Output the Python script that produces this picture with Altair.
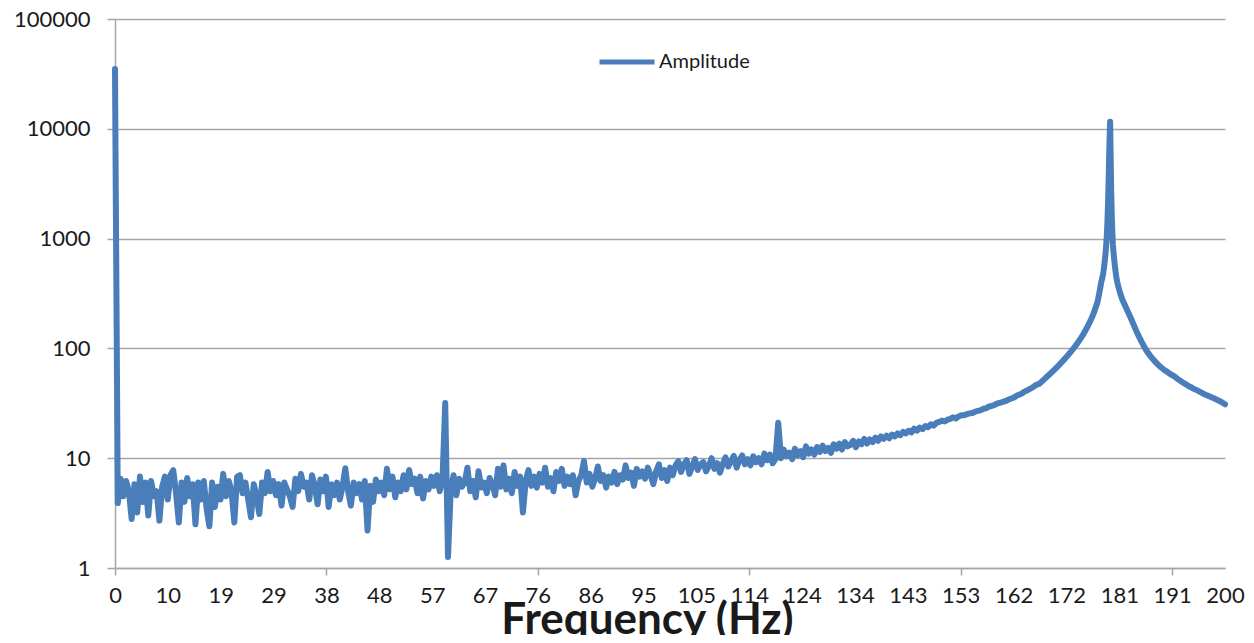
import json
import altair as alt
import pandas as pd

# ---- data ----
LOW_START, LOW_STEP = 0.0, 0.5      # 0 .. 176.5 Hz
PEAK_START, PEAK_STEP = 177.0, 0.1  # 177.0 .. 182.0 Hz (resonance, finer reading)
HIGH_START, HIGH_STEP = 182.5, 0.5  # 182.5 .. 200 Hz

AMP_000 = [35000, 3.9, 6.5, 4.5, 6.2, 5.0, 2.8, 5.8, 3.2, 6.8, 4.0, 6.0, 3.0, 6.2, 4.5, 5.0, 2.7, 5.5, 6.8, 4.2]
AMP_010 = [7.0, 7.8, 4.8, 2.6, 6.0, 4.0, 6.6, 4.5, 5.8, 2.5, 6.0, 4.2, 6.2, 3.5, 2.4, 6.0, 3.6, 5.5, 4.2, 7.2]
AMP_020 = [4.5, 6.2, 5.0, 2.6, 6.8, 7.0, 4.8, 6.0, 4.2, 2.9, 5.8, 4.5, 3.1, 6.0, 4.8, 7.5, 5.0, 6.2, 4.6, 5.8]
AMP_030 = [3.7, 6.0, 5.2, 4.5, 3.6, 6.5, 5.0, 7.2, 5.5, 6.0, 4.2, 7.0, 5.6, 3.8, 6.4, 5.0, 6.8, 3.6, 5.8, 4.6]
AMP_040 = [6.0, 4.2, 5.5, 8.1, 5.0, 3.7, 6.0, 4.8, 5.8, 4.2, 6.2, 2.2, 5.6, 4.0, 6.4, 5.0, 6.0, 4.6, 8.0, 5.2]
AMP_050 = [6.8, 4.4, 6.0, 5.0, 7.0, 5.2, 7.8, 5.8, 6.5, 4.8, 6.8, 4.3, 6.2, 5.2, 6.8, 5.6, 7.0, 5.0, 6.2, 31.8]
AMP_060 = [1.26, 5.2, 7.0, 4.6, 6.5, 5.5, 6.0, 8.2, 5.0, 6.2, 4.4, 7.6, 5.4, 6.0, 4.8, 6.6, 5.8, 4.6, 8.0, 5.5]
AMP_070 = [8.6, 5.2, 6.5, 4.8, 7.5, 5.6, 6.8, 3.2, 6.2, 7.8, 5.6, 6.8, 5.4, 7.2, 6.0, 8.2, 5.5, 6.6, 5.0, 7.5]
AMP_080 = [6.2, 8.0, 5.6, 6.8, 5.8, 7.0, 4.6, 6.2, 7.0, 9.4, 6.0, 7.2, 5.5, 6.5, 8.4, 6.2, 7.0, 5.4, 6.8, 6.0]
AMP_090 = [7.5, 5.8, 7.0, 6.4, 8.6, 6.6, 7.4, 5.6, 8.0, 6.8, 7.6, 6.5, 8.2, 7.0, 5.8, 7.6, 8.8, 6.6, 7.8, 6.2]
AMP_100 = [8.2, 7.0, 8.6, 9.4, 7.5, 8.8, 9.6, 7.2, 8.4, 9.8, 7.8, 8.8, 9.2, 7.6, 8.5, 10.0, 8.0, 9.0, 7.4, 8.8]
AMP_110 = [10.2, 8.4, 9.4, 10.5, 8.2, 9.6, 10.6, 8.8, 9.8, 8.6, 10.4, 9.2, 10.0, 8.8, 11.0, 9.6, 10.8, 9.0, 9.8, 21.0]
AMP_120 = [10.0, 12.0, 10.4, 11.2, 9.8, 12.2, 10.6, 11.6, 10.2, 12.8, 11.0, 12.0, 10.8, 12.6, 11.4, 13.0, 11.6, 12.4, 11.2, 13.4]
AMP_130 = [12.2, 13.6, 12.0, 14.0, 12.8, 13.2, 14.4, 12.6, 14.2, 13.4, 15.0, 13.6, 14.8, 14.0, 15.4, 14.4, 15.8, 15.0, 16.0, 15.2]
AMP_140 = [16.4, 15.8, 16.8, 16.2, 17.4, 16.8, 17.8, 17.2, 18.6, 17.8, 19.0, 18.4, 19.6, 19.2, 20.4, 19.8, 21.0, 21.4, 22.0, 21.6]
AMP_150 = [22.4, 22.8, 23.6, 23.0, 24.0, 24.6, 24.6, 25.2, 25.6, 25.8, 26.6, 27.0, 27.4, 28.2, 28.6, 29.6, 30.0, 30.6, 31.6, 32.0]
AMP_160 = [32.6, 33.2, 34.2, 35.0, 35.8, 37.2, 38.0, 39.2, 40.8, 41.8, 43.2, 44.8, 46.6, 47.5, 50.0, 52.8, 55.7, 58.8, 62.2, 65.8]
AMP_170 = [69.8, 74.2, 79.0, 84.3, 90.2, 96.8, 104.5, 113.4, 123.5, 135.2, 150, 168, 190, 220]

PEAK_AMP = [262, 275, 292, 310, 330, 352, 375, 400, 420, 440,
            465, 500, 545, 600, 670, 760, 880, 1050, 1350, 1900,
            2900, 4800, 8000, 11600, 5500, 2600, 1600, 1150, 880, 760,
            680, 600, 540, 495, 455, 425, 400, 380, 362, 347,
            333, 320, 308, 298, 288, 280, 272, 265, 258, 252,
            246]

HIGH_AMP = [216, 190, 166, 145, 128, 114, 102, 93, 86, 80, 75, 70.5, 67, 64, 61.5,
            59, 57, 55, 52.5, 50.5, 48.5, 47.0, 45.2, 44.0, 42.5, 41.5, 40.2, 39.0, 37.8,
            37.0, 36.0, 35.2, 34.2, 33.2, 32.2, 31.0]

TICK_LABELS = ["0", "10", "19", "29", "38", "48", "57", "67", "76", "86", "95",
               "105", "114", "124", "134", "143", "153", "162", "172", "181", "191", "200"]
Y_TICKS = [1, 10, 100, 1000, 10000, 100000]
SERIES = "Amplitude"

low_amp = (AMP_000 + AMP_010 + AMP_020 + AMP_030 + AMP_040 + AMP_050 + AMP_060 +
           AMP_070 + AMP_080 + AMP_090 + AMP_100 + AMP_110 + AMP_120 + AMP_130 +
           AMP_140 + AMP_150 + AMP_160 + AMP_170)
amplitude = low_amp + PEAK_AMP + HIGH_AMP
freq = ([round(LOW_START + i * LOW_STEP, 2) for i in range(len(low_amp))] +
        [round(PEAK_START + i * PEAK_STEP, 2) for i in range(len(PEAK_AMP))] +
        [round(HIGH_START + i * HIGH_STEP, 2) for i in range(len(HIGH_AMP))])

df = pd.DataFrame({"freq": freq, "amp": amplitude, "series": SERIES})

n_int = len(TICK_LABELS) - 1
x_vals = [k * 200 / n_int for k in range(len(TICK_LABELS))]
label_expr = json.dumps(TICK_LABELS) + f"[round(datum.value*{n_int}/200)]"

GRID = "#a6a6a6"
TXT = "#1a1a1a"
BLUE = "#4a7ebb"

chart = alt.Chart(df).mark_line(
    strokeWidth=6, strokeCap="round", strokeJoin="round"
).encode(
    x=alt.X("freq:Q",
            scale=alt.Scale(domain=[0, 200], nice=False, zero=False),
            axis=alt.Axis(values=x_vals, labelExpr=label_expr,
                          tickSize=7, tickColor=GRID, tickWidth=1.5,
                          tickOpacity={"condition": {"test": f"round(datum.value*{n_int}/200) % 4 == 0", "value": 1}, "value": 0},
                          domainColor=GRID, domainWidth=1.5, grid=False,
                          labelFont="Lato", labelFontSize=22, labelColor=TXT,
                          labelPadding=10, labelFlush=False, labelOverlap=False,
                          title="Frequency (Hz)", titleFont="Lato", titleFontSize=44,
                          titleFontWeight="bold", titleColor=TXT,
                          titleBaseline="alphabetic", titleAlign="center",
                          titleX=532, titleY=65)),
    y=alt.Y("amp:Q",
            scale=alt.Scale(type="log", domain=[1, 100000], nice=False),
            axis=alt.Axis(values=Y_TICKS, format="d", grid=True,
                          gridColor=GRID, gridWidth=1.5,
                          tickSize=8, tickColor=GRID, tickWidth=1.5,
                          domainColor=GRID, domainWidth=1.5,
                          labelFont="Lato", labelFontSize=22, labelColor=TXT,
                          labelPadding=17, title=None)),
    color=alt.Color("series:N",
                    scale=alt.Scale(range=[BLUE]),
                    legend=alt.Legend(orient="none", legendX=482, legendY=13,
                                      title=None, symbolType="stroke",
                                      symbolSize=3025, symbolStrokeWidth=5,
                                      labelFont="Lato", labelFontSize=20,
                                      labelColor=TXT, labelOffset=2, padding=0)),
).properties(
    width=1110, height=549,
    autosize=alt.AutoSizeParams(type="none"),
    padding={"left": 107, "top": 11, "right": 21, "bottom": 67},
    background="white",
).configure_view(stroke="transparent")

chart.save("out.html", embed_options={"renderer": "svg", "actions": False})
